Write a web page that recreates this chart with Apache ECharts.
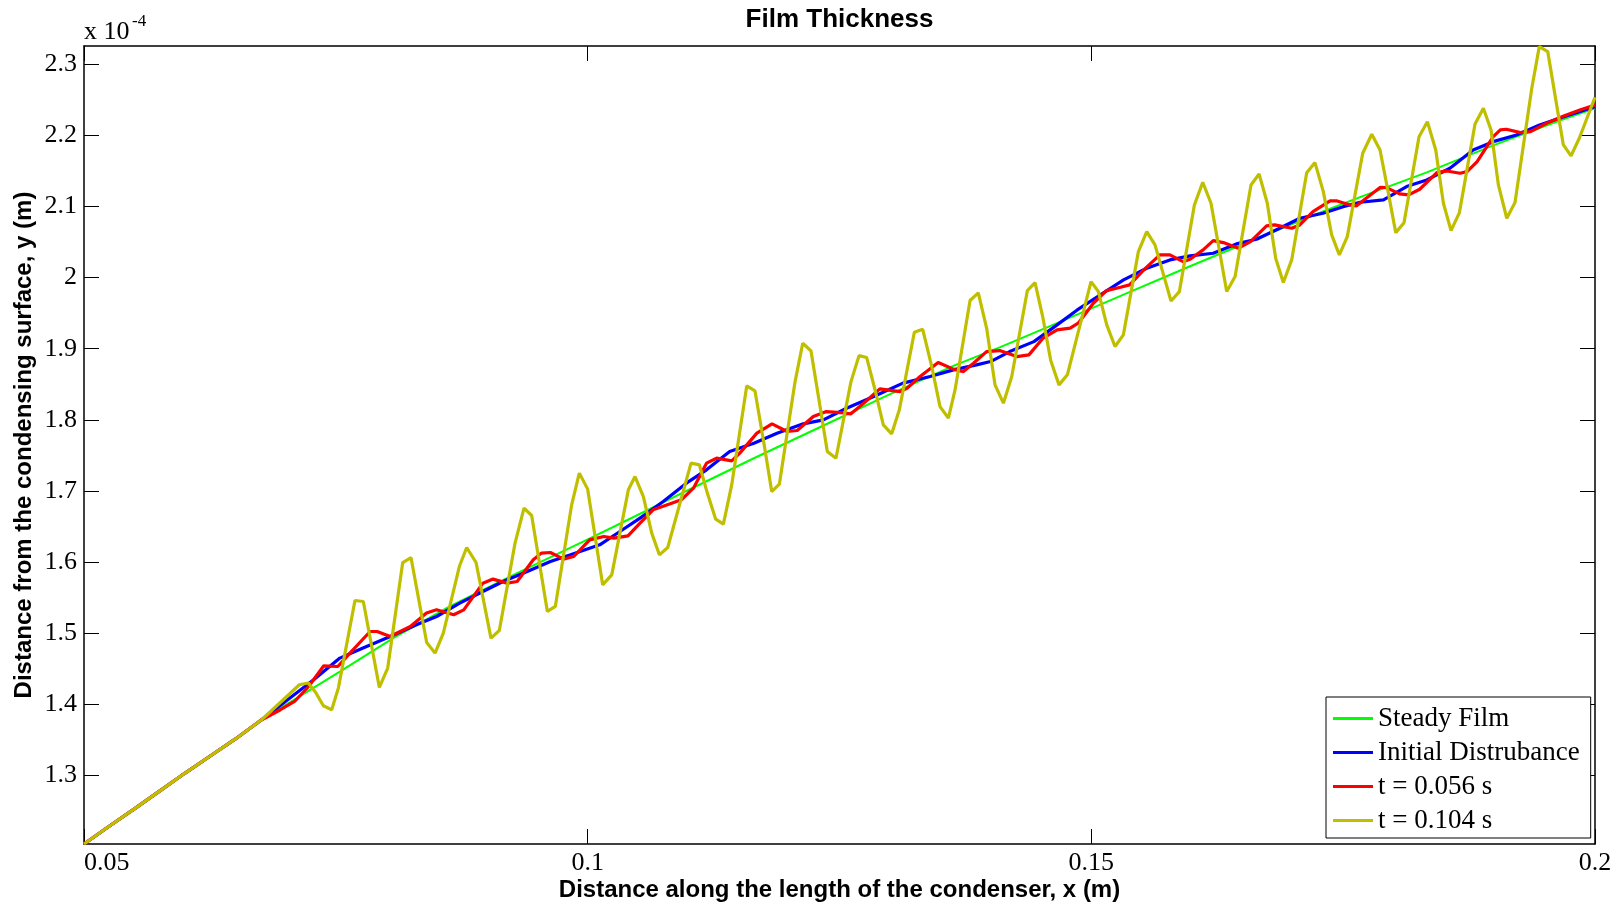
<!DOCTYPE html>
<html>
<head>
<meta charset="utf-8">
<script src="https://cdn.jsdelivr.net/npm/echarts@6/dist/echarts.min.js"></script>
<style>
html,body{margin:0;padding:0;background:#fff;}
#chart{width:1623px;height:904px;}
</style>
</head>
<body>
<div id="chart"></div>
<script>
// ---- data (x in m, y in units of 1e-4 m) ----
const seriesNames = ['Steady Film', 'Initial Distrubance', 't = 0.056 s', 't = 0.104 s'];
const xTickValues = [0.05, 0.1, 0.15, 0.2];
const xTickLabels = ['0.05', '0.1', '0.15', '0.2'];
const yTickValues = [1.3, 1.4, 1.5, 1.6, 1.7, 1.8, 1.9, 2.0, 2.1, 2.2, 2.3];
const yTickLabels = ['1.3', '1.4', '1.5', '1.6', '1.7', '1.8', '1.9', '2', '2.1', '2.2', '2.3'];
const xRange = [0.05, 0.2];
const yRange = [1.2036, 2.3257];

// shared start segment (all curves coincide)
const startX = [0.05, 0.0525, 0.055, 0.0575, 0.06, 0.0625, 0.065, 0.0676];
const startY = [1.2036, 1.2285, 1.253, 1.278, 1.303, 1.327, 1.351, 1.378];

const steadyX = [0.0754, 0.0807, 0.0863, 0.0930, 0.0996, 0.1035, 0.1098, 0.1165, 0.1231, 0.1297, 0.1363, 0.1409, 0.1466, 0.1532, 0.1598, 0.1664, 0.1730, 0.1770, 0.1833, 0.1899, 0.1965, 0.2000];
const steadyY = [1.446, 1.4931, 1.5376, 1.5845, 1.629, 1.656, 1.700, 1.746, 1.790, 1.834, 1.876, 1.902, 1.936, 1.976, 2.016, 2.055, 2.093, 2.115, 2.148, 2.186, 2.221, 2.2382];

const initX = [0.0698, 0.0728, 0.0754, 0.0777, 0.0804, 0.0830, 0.0850, 0.0873, 0.0896, 0.0916, 0.0940, 0.0963, 0.0983, 0.1012, 0.1032, 0.1052, 0.1075, 0.1098, 0.1118, 0.1141, 0.1165, 0.1188, 0.1214, 0.1234, 0.1257, 0.1284, 0.1313, 0.1340, 0.1363, 0.1386, 0.1400, 0.1419, 0.1443, 0.1466, 0.1486, 0.1509, 0.1532, 0.1555, 0.1578, 0.1598, 0.1621, 0.1644, 0.1664, 0.1687, 0.1707, 0.1730, 0.1750, 0.1767, 0.1790, 0.1813, 0.1833, 0.1856, 0.1879, 0.1899, 0.1922, 0.1945, 0.1969, 0.2000];
const initY = [1.4018, 1.4345, 1.465, 1.4791, 1.4954, 1.5118, 1.5235, 1.5423, 1.5587, 1.5727, 1.5868, 1.6008, 1.6102, 1.6243, 1.643, 1.6618, 1.6852, 1.711, 1.7297, 1.7555, 1.7672, 1.7813, 1.7944, 1.800, 1.8164, 1.8328, 1.8516, 1.8609, 1.8703, 1.8773, 1.882, 1.896, 1.910, 1.9336, 1.9546, 1.9757, 1.9968, 2.0132, 2.0249, 2.0306, 2.0343, 2.0474, 2.054, 2.0695, 2.0835, 2.0905, 2.0998, 2.106, 2.1093, 2.128, 2.1374, 2.1538, 2.1795, 2.1912, 2.2006, 2.2147, 2.2263, 2.2404];

const t056X = [0.0695, 0.0709, 0.0723, 0.0738, 0.0752, 0.0764, 0.0784, 0.0791, 0.0804, 0.0824, 0.0840, 0.0850, 0.0867, 0.0877, 0.0896, 0.0906, 0.0920, 0.0930, 0.0946, 0.0954, 0.0963, 0.0976, 0.0986, 0.1002, 0.1016, 0.1026, 0.1040, 0.1052, 0.1065, 0.1082, 0.1093, 0.1105, 0.1118, 0.1128, 0.1143, 0.1151, 0.1168, 0.1183, 0.1198, 0.1208, 0.1224, 0.1237, 0.1251, 0.1261, 0.1274, 0.1290, 0.1310, 0.1317, 0.1330, 0.1348, 0.1363, 0.1373, 0.1383, 0.1396, 0.1409, 0.1426, 0.1438, 0.1452, 0.1466, 0.1479, 0.1487, 0.1502, 0.1515, 0.1529, 0.1538, 0.1552, 0.1568, 0.1578, 0.1591, 0.1598, 0.1611, 0.1621, 0.1631, 0.1646, 0.1658, 0.1674, 0.1682, 0.1699, 0.1707, 0.1720, 0.1737, 0.1744, 0.1757, 0.1763, 0.1777, 0.1787, 0.1793, 0.1806, 0.1815, 0.1826, 0.1843, 0.1853, 0.1866, 0.1873, 0.1883, 0.1899, 0.1906, 0.1912, 0.1926, 0.1936, 0.1952, 0.1969, 0.1985, 0.2000];
const t056Y = [1.3924, 1.404, 1.4251, 1.4542, 1.4532, 1.472, 1.5024, 1.5024, 1.4954, 1.5094, 1.5283, 1.5329, 1.5259, 1.5329, 1.5704, 1.5761, 1.5704, 1.5727, 1.6032, 1.6126, 1.6135, 1.6042, 1.6078, 1.6313, 1.636, 1.6337, 1.6369, 1.6548, 1.6735, 1.6819, 1.6876, 1.704, 1.7391, 1.7461, 1.7424, 1.7532, 1.7813, 1.7944, 1.7836, 1.785, 1.8047, 1.8117, 1.8103, 1.8084, 1.8234, 1.8436, 1.8398, 1.8445, 1.8609, 1.8806, 1.8713, 1.8679, 1.8797, 1.896, 1.8974, 1.889, 1.8914, 1.9148, 1.9265, 1.9289, 1.9359, 1.964, 1.9818, 1.9865, 1.9898, 2.0109, 2.032, 2.032, 2.0225, 2.0259, 2.039, 2.0521, 2.0493, 2.0414, 2.0507, 2.0727, 2.0741, 2.0695, 2.0741, 2.0928, 2.1078, 2.1078, 2.1022, 2.1008, 2.1163, 2.1271, 2.1265, 2.1177, 2.1163, 2.1243, 2.1476, 2.15, 2.1468, 2.149, 2.1631, 2.1982, 2.2077, 2.2086, 2.2039, 2.2053, 2.2171, 2.2273, 2.2358, 2.2428];

const t104X = [0.0696, 0.07138, 0.07227, 0.07300, 0.07376, 0.07459, 0.07525, 0.07690, 0.07773, 0.07932, 0.08015, 0.08164, 0.08246, 0.08402, 0.08485, 0.08567, 0.08726, 0.08799, 0.08892, 0.09040, 0.09123, 0.09279, 0.09368, 0.09444, 0.09600, 0.09679, 0.09841, 0.09917, 0.10000, 0.10149, 0.10239, 0.10404, 0.10470, 0.10553, 0.10636, 0.10712, 0.10795, 0.11026, 0.11109, 0.11188, 0.11271, 0.11347, 0.11430, 0.11579, 0.11661, 0.11751, 0.11827, 0.11903, 0.12059, 0.12135, 0.12217, 0.12307, 0.12379, 0.12465, 0.12614, 0.12694, 0.12770, 0.12853, 0.12935, 0.13018, 0.13094, 0.13243, 0.13326, 0.13416, 0.13498, 0.13581, 0.13647, 0.13796, 0.13878, 0.13962, 0.14044, 0.14127, 0.14210, 0.14365, 0.14441, 0.14517, 0.14597, 0.14679, 0.14762, 0.14997, 0.15070, 0.15153, 0.15235, 0.15318, 0.15467, 0.15550, 0.15632, 0.15791, 0.15874, 0.16023, 0.16106, 0.16188, 0.16344, 0.16427, 0.16585, 0.16665, 0.16747, 0.16830, 0.16906, 0.16989, 0.17138, 0.17220, 0.17303, 0.17386, 0.17462, 0.17541, 0.17694, 0.17784, 0.17866, 0.17949, 0.18022, 0.18104, 0.18253, 0.18336, 0.18419, 0.18495, 0.18571, 0.18654, 0.18809, 0.18892, 0.18968, 0.19041, 0.19124, 0.19206, 0.19372, 0.19447, 0.19531, 0.19685, 0.19762, 0.19844, 0.20000];
const t104Y = [1.404, 1.4275, 1.430, 1.4167, 1.398, 1.3924, 1.4228, 1.546, 1.5446, 1.4237, 1.451, 1.5994, 1.6064, 1.487, 1.472, 1.500, 1.5938, 1.6205, 1.5994, 1.4931, 1.5038, 1.6267, 1.6759, 1.6655, 1.5306, 1.5376, 1.6805, 1.7251, 1.7026, 1.568, 1.5821, 1.7016, 1.7203, 1.6922, 1.6407, 1.6102, 1.6205, 1.7391, 1.7368, 1.6970, 1.6604, 1.6534, 1.7085, 1.8477, 1.8406, 1.7661, 1.6992, 1.7096, 1.8538, 1.9077, 1.8969, 1.8187, 1.7555, 1.7461, 1.8538, 1.8903, 1.8876, 1.8420, 1.7930, 1.7804, 1.8141, 1.9231, 1.9274, 1.8747, 1.8187, 1.8024, 1.8420, 1.9678, 1.9785, 1.9279, 1.8492, 1.8235, 1.8609, 1.9818, 1.9931, 1.9453, 1.8834, 1.8492, 1.8633, 1.9944, 1.9804, 1.9336, 1.9031, 1.9195, 2.0366, 2.0647, 2.0460, 1.9672, 1.9803, 2.1022, 2.1341, 2.1046, 1.9804, 2.0015, 2.1303, 2.1458, 2.1046, 2.0273, 1.9931, 2.0249, 2.1476, 2.1617, 2.1209, 2.0601, 2.0319, 2.0577, 2.1749, 2.2016, 2.1795, 2.1186, 2.0633, 2.0773, 2.1982, 2.2193, 2.1795, 2.1046, 2.0661, 2.0914, 2.2161, 2.2381, 2.2076, 2.1303, 2.0835, 2.1055, 2.2660, 2.3248, 2.3178, 2.1871, 2.1711, 2.1960, 2.2536];

const seriesColors = ['#00ff00', '#0000ff', '#ff0000', '#bfbf00'];
const seriesWidths = [2, 3.2, 3.2, 3.2];

function pairs(xs, ys) {
  const a = startX.map((x, i) => [x, startY[i]]);
  return a.concat(xs.map((x, i) => [x, ys[i]]));
}
const allData = [pairs(steadyX, steadyY), pairs(initX, initY), pairs(t056X, t056Y), pairs(t104X, t104Y)];

function fmtX(v) {
  const i = xTickValues.findIndex(t => Math.abs(t - v) < 1e-9);
  return i >= 0 ? xTickLabels[i] : '';
}
function fmtY(v) {
  const i = yTickValues.findIndex(t => Math.abs(t - v) < 1e-9);
  return i >= 0 ? yTickLabels[i] : '';
}

const serif = 'Liberation Serif, Times New Roman, serif';
const sans = 'Liberation Sans, Arial, Helvetica, sans-serif';
const axisLineStyle = { color: '#000', width: 1.5 };

const chart = echarts.init(document.getElementById('chart'), null, { renderer: 'canvas' });
chart.setOption({
  animation: false,
  backgroundColor: '#fff',
  title: {
    text: 'Film Thickness',
    left: 839.5,
    top: 7,
    textAlign: 'center',
    padding: 0,
    textStyle: { fontFamily: sans, fontWeight: 'bold', fontSize: 26, color: '#000' }
  },
  grid: { left: 84, right: 28, top: 46, bottom: 60, containLabel: false, outerBoundsMode: 'none' },
  legend: {
    data: seriesNames,
    orient: 'vertical',
    left: 1326,
    top: 697,
    padding: [8, 11, 4, 7],
    itemGap: 7,
    itemWidth: 40,
    itemHeight: 3,
    icon: 'rect',
    backgroundColor: '#fff',
    borderColor: '#000',
    borderWidth: 1,
    borderRadius: 0,
    textStyle: { fontFamily: serif, fontSize: 27, color: '#000' }
  },
  xAxis: [{
    type: 'value', min: xRange[0], max: xRange[1], position: 'bottom',
    name: 'Distance along the length of the condenser, x (m)',
    nameLocation: 'middle', nameGap: 34, nameMoveOverlap: false,
    nameTextStyle: { fontFamily: sans, fontWeight: 'bold', fontSize: 24, color: '#000' },
    axisLine: { show: true, onZero: false, lineStyle: axisLineStyle },
    axisTick: { show: true, inside: true, length: 15, customValues: xTickValues, lineStyle: { color: '#000', width: 1 } },
    axisLabel: { show: true, customValues: xTickValues, formatter: fmtX, margin: 6, alignMinLabel: 'left', fontFamily: serif, fontSize: 26, color: '#000' },
    splitLine: { show: false }
  }, {
    type: 'value', min: xRange[0], max: xRange[1], position: 'top',
    axisLine: { show: true, onZero: false, lineStyle: axisLineStyle },
    axisTick: { show: true, inside: true, length: 15, customValues: xTickValues, lineStyle: { color: '#000', width: 1 } },
    axisLabel: { show: false },
    splitLine: { show: false }
  }],
  yAxis: [{
    type: 'value', min: yRange[0], max: yRange[1], position: 'left',
    name: 'Distance from the condensing surface, y (m)',
    nameLocation: 'middle', nameGap: 48, nameRotate: 90, nameMoveOverlap: false,
    nameTextStyle: { fontFamily: sans, fontWeight: 'bold', fontSize: 24, color: '#000' },
    axisLine: { show: true, onZero: false, lineStyle: axisLineStyle },
    axisTick: { show: true, inside: true, length: 15, customValues: yTickValues, lineStyle: { color: '#000', width: 1 } },
    axisLabel: { show: true, customValues: yTickValues, formatter: fmtY, margin: 7, fontFamily: serif, fontSize: 26, color: '#000' },
    splitLine: { show: false }
  }, {
    type: 'value', min: yRange[0], max: yRange[1], position: 'right',
    axisLine: { show: true, onZero: false, lineStyle: axisLineStyle },
    axisTick: { show: true, inside: true, length: 15, customValues: yTickValues, lineStyle: { color: '#000', width: 1 } },
    axisLabel: { show: false },
    splitLine: { show: false }
  }],
  graphic: [
    { type: 'text', left: 84, top: 19, style: { text: 'x 10', fontFamily: serif, fontSize: 26, fill: '#000' } },
    { type: 'text', left: 132, top: 13, style: { text: '-4', fontFamily: serif, fontSize: 17, fill: '#000' } }
  ],
  series: seriesNames.map((n, i) => ({
    name: n,
    type: 'line',
    data: allData[i],
    showSymbol: false,
    symbol: 'none',
    smooth: false,
    color: seriesColors[i],
    lineStyle: { color: seriesColors[i], width: seriesWidths[i] },
    z: 2 + i
  }))
});
</script>
</body>
</html>
